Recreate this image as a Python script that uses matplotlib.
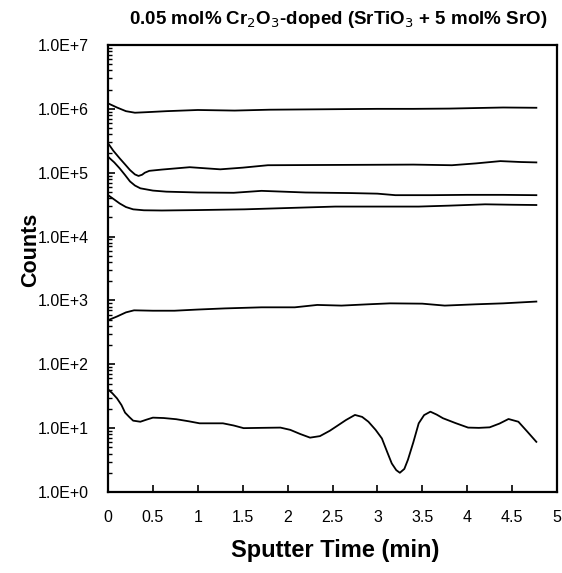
import numpy as np
import matplotlib
matplotlib.use("Agg")
import matplotlib.pyplot as plt
from matplotlib.ticker import LogLocator, FixedLocator, FuncFormatter, NullFormatter

plt.rcParams['font.family'] = ['Liberation Sans', 'DejaVu Sans']

# sputter time (min) and counts for each depth profile
t1 = [0.0, 0.1, 0.2, 0.3, 0.45, 0.65, 1.0, 1.41, 1.8, 2.2, 2.6, 3.0, 3.4, 3.8, 4.1, 4.4, 4.77]
c1 = [1.22e6, 1.05e6, 9.2e5, 8.7e5, 8.9e5, 9.2e5, 9.6e5, 9.4e5, 9.7e5, 9.8e5, 9.9e5, 1.0e6, 1.0e6, 1.01e6, 1.03e6, 1.05e6, 1.04e6]

t2 = [0.0, 0.06, 0.13, 0.19, 0.245, 0.3, 0.34, 0.38, 0.41, 0.46, 0.6, 0.91, 1.25, 1.5, 1.78, 2.3, 2.9, 3.4, 3.83, 4.1, 4.37, 4.6, 4.77]
c2 = [2.9e5, 2.2e5, 1.68e5, 1.35e5, 1.1e5, 9.4e4, 8.9e4, 9.3e4, 1.0e5, 1.07e5, 1.12e5, 1.22e5, 1.13e5, 1.2e5, 1.31e5, 1.32e5, 1.33e5, 1.34e5, 1.31e5, 1.40e5, 1.52e5, 1.47e5, 1.45e5]

t3 = [0.0, 0.07, 0.13, 0.19, 0.245, 0.3, 0.36, 0.5, 0.65, 1.0, 1.4, 1.71, 2.2, 2.7, 3.0, 3.2, 3.6, 4.0, 4.4, 4.77]
c3 = [1.78e5, 1.45e5, 1.17e5, 9.2e4, 7.3e4, 6.3e4, 5.7e4, 5.25e4, 5.05e4, 4.9e4, 4.85e4, 5.2e4, 4.9e4, 4.8e4, 4.7e4, 4.45e4, 4.45e4, 4.5e4, 4.5e4, 4.45e4]

t4 = [0.0, 0.07, 0.13, 0.2, 0.28, 0.4, 0.6, 1.0, 1.52, 2.0, 2.53, 3.0, 3.46, 3.8, 4.2, 4.5, 4.77]
c4 = [4.47e4, 3.8e4, 3.3e4, 2.9e4, 2.67e4, 2.58e4, 2.56e4, 2.6e4, 2.67e4, 2.8e4, 2.95e4, 2.95e4, 2.95e4, 3.05e4, 3.2e4, 3.15e4, 3.12e4]

t5 = [0.0, 0.1, 0.2, 0.29, 0.5, 0.74, 1.0, 1.3, 1.71, 2.08, 2.33, 2.6, 2.9, 3.14, 3.5, 3.75, 4.1, 4.4, 4.77]
c5 = [4.9e2, 5.6e2, 6.5e2, 7.0e2, 6.9e2, 6.9e2, 7.2e2, 7.5e2, 7.8e2, 7.8e2, 8.5e2, 8.3e2, 8.7e2, 9.0e2, 8.9e2, 8.3e2, 8.7e2, 9.0e2, 9.6e2]

t6 = [0.0, 0.05, 0.10, 0.15, 0.19, 0.24, 0.28, 0.36, 0.43, 0.50, 0.62, 0.76, 0.9, 1.02, 1.28, 1.4, 1.51, 1.7, 1.92, 2.03,
      2.14, 2.25, 2.36, 2.47, 2.55, 2.65, 2.75, 2.83, 2.90, 2.98, 3.05, 3.11, 3.16, 3.21, 3.25, 3.3, 3.34, 3.4, 3.46,
      3.52, 3.59, 3.66, 3.73, 3.87, 4.01, 4.13, 4.25, 4.36, 4.46, 4.57, 4.67, 4.77]
c6 = [40.6, 35.0, 29.3, 23.0, 17.5, 14.8, 13.1, 12.6, 13.6, 14.6, 14.4, 13.8, 12.8, 11.9, 11.9, 11.0, 10.0, 10.1, 10.2, 9.4,
      8.1, 7.1, 7.5, 9.1, 10.8, 13.4, 16.1, 15.0, 12.6, 9.4, 6.9, 4.2, 2.8, 2.2, 2.0, 2.3, 3.2, 6.0, 11.9,
      16.0, 18.1, 16.3, 14.3, 12.0, 10.2, 10.1, 10.3, 11.8, 13.9, 12.6, 8.8, 6.1]

x_ticks = [0, 0.5, 1, 1.5, 2, 2.5, 3, 3.5, 4, 4.5, 5]
x_labels = ['0', '0.5', '1', '1.5', '2', '2.5', '3', '3.5', '4', '4.5', '5']

fig = plt.figure(figsize=(5.62, 5.73), dpi=100)
ax = fig.add_axes([108 / 562, 1 - 492 / 573, 449 / 562, 447 / 573])

for t, c in [(t1, c1), (t2, c2), (t3, c3), (t4, c4), (t5, c5), (t6, c6)]:
    ax.plot(t, c, color='black', lw=1.3, solid_joinstyle='round')

ax.set_yscale('log')
ax.set_ylim(1, 1e7)
ax.set_xlim(0, 5)

ax.xaxis.set_major_locator(FixedLocator(x_ticks))
ax.set_xticklabels(x_labels)
ax.yaxis.set_major_locator(LogLocator(base=10, numticks=10))
ax.yaxis.set_minor_locator(LogLocator(base=10, subs=np.arange(2, 10), numticks=20))
ax.yaxis.set_minor_formatter(NullFormatter())
ax.yaxis.set_major_formatter(FuncFormatter(lambda v, p: '1.0E+%d' % round(np.log10(v))))

ax.tick_params(axis='x', direction='in', length=5, width=1.2, top=False, labelsize=11.5, pad=13)
ax.tick_params(axis='y', which='major', direction='in', length=5, width=1.2, right=False, labelsize=11.5, pad=14)
ax.tick_params(axis='y', which='minor', direction='in', length=3, width=1.0, right=False)

for s in ax.spines.values():
    s.set_linewidth(1.6)

fig.text(338 / 562, 1 - 20 / 573, '0.05 mol% Cr$_2$O$_3$-doped (SrTiO$_3$ + 5 mol% SrO)',
         ha='center', va='center', fontsize=13.5, fontweight='bold')
fig.text(31 / 562, 1 - 250 / 573, 'Counts', rotation=90, ha='center', va='center',
         fontsize=15.5, fontweight='bold')
fig.text(335 / 562, 1 - 551 / 573, 'Sputter Time (min)', ha='center', va='center',
         fontsize=17, fontweight='bold')

fig.savefig('out.png', dpi=100)
